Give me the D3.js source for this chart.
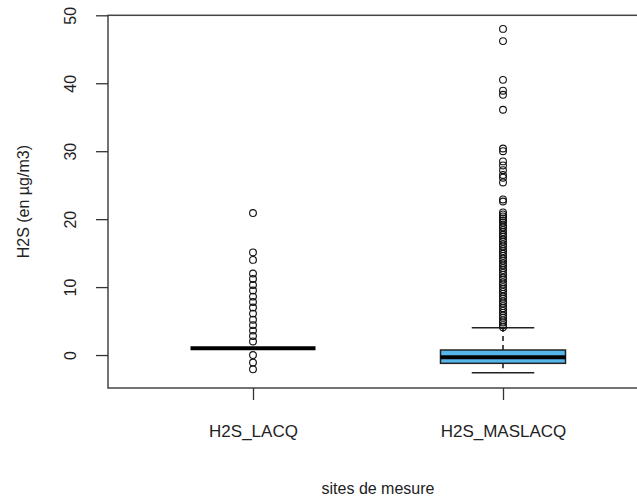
<!DOCTYPE html>
<html>
<head>
<meta charset="utf-8">
<script src="https://cdn.jsdelivr.net/npm/d3@7"></script>
<style>
  body { margin: 0; background: #fff; }
  text { font-family: "Liberation Sans", Arial, sans-serif; fill: #222; }
</style>
</head>
<body>
<div id="boxplot"></div>
<script>
const WIDTH = 637;
const HEIGHT = 499;

// plot region (right side runs past the picture edge, as in the original)
const PLOT_LEFT = 108;
const PLOT_RIGHT = 648;
const PLOT_TOP = 15.3;
const PLOT_BOTTOM = 388;

const TICK_FONT = 16;
const CAT_FONT = 17;
const TITLE_FONT = 16;
const BOX_COLOR = "#56b6ea";

// data
const categories = ["H2S_LACQ", "H2S_MASLACQ"];
const whiskerLow = [1.0, -2.6];
const q1 = [1.0, -1.22];
const median = [1.0, -0.34];
const q3 = [1.0, 0.74];
const whiskerHigh = [1.0, 4.02];
const boxFill = ["none", BOX_COLOR];

const outliersLacq = [20.9, 15.1, 14.0, 12.0, 11.2, 10.3, 9.5, 8.6, 7.8, 7.0,
  6.1, 5.2, 4.4, 3.6, 2.8, 2.0, 0.0, -1.1, -2.1];
const outliersMaslacq = [48.0, 46.2, 40.5, 38.9, 38.3, 36.1, 30.4, 30.0, 28.5,
  27.9, 27.2, 26.5, 26.1, 25.4, 22.9, 22.6, 21.0, 20.7, 20.4, 20.1, 19.8, 19.5,
  19.1, 18.8, 18.4, 18.1, 17.7, 17.4, 17.0, 16.7, 16.3, 16.0, 15.6, 15.3, 14.9,
  14.6, 14.2, 13.9, 13.5, 13.2, 12.8, 12.5, 12.1, 11.8, 11.4, 11.1, 10.7, 10.4,
  10.0, 9.7, 9.3, 9.0, 8.6, 8.3, 7.9, 7.6, 7.2, 6.9, 6.5, 6.2, 5.8, 5.5, 5.1,
  4.8, 4.4, 4.1];
const outliers = [outliersLacq, outliersMaslacq];

const yTicks = [0, 10, 20, 30, 40, 50];
const yLabel = "H2S (en µg/m3)";
const xLabel = "sites de mesure";

const svg = d3
  .select("#boxplot")
  .append("svg")
  .attr("width", WIDTH)
  .attr("height", HEIGHT);

const x = d3.scaleLinear().domain([0.42, 2.58]).range([PLOT_LEFT, PLOT_RIGHT]);
const y = d3.scaleLinear().domain([-4.85, 50]).range([PLOT_BOTTOM, PLOT_TOP]);

const BOX_HALF = 0.25;
const STAPLE_HALF = 0.125;

// boxes
categories.forEach((cat, i) => {
  const cx = i + 1;
  const g = svg.append("g").attr("class", "box");

  // whiskers (dashed)
  g.append("line")
    .attr("x1", x(cx)).attr("x2", x(cx))
    .attr("y1", y(q3[i])).attr("y2", y(whiskerHigh[i]))
    .style("stroke", "#111").style("stroke-width", 1.5)
    .style("stroke-dasharray", "5,4");
  g.append("line")
    .attr("x1", x(cx)).attr("x2", x(cx))
    .attr("y1", y(q1[i])).attr("y2", y(whiskerLow[i]))
    .style("stroke", "#111").style("stroke-width", 1.5)
    .style("stroke-dasharray", "5,4");

  // staples
  [whiskerHigh[i], whiskerLow[i]].forEach(v => {
    g.append("line")
      .attr("x1", x(cx - STAPLE_HALF)).attr("x2", x(cx + STAPLE_HALF))
      .attr("y1", y(v)).attr("y2", y(v))
      .style("stroke", "#222").style("stroke-width", 1.5);
  });

  g.append("rect")
    .attr("x", x(cx - BOX_HALF))
    .attr("y", y(q3[i]))
    .attr("width", x(cx + BOX_HALF) - x(cx - BOX_HALF))
    .attr("height", y(q1[i]) - y(q3[i]))
    .style("fill", boxFill[i])
    .style("stroke", "#222")
    .style("stroke-width", 1.5);

  g.append("line")
    .attr("x1", x(cx - BOX_HALF)).attr("x2", x(cx + BOX_HALF))
    .attr("y1", y(median[i])).attr("y2", y(median[i]))
    .style("stroke", "#000").style("stroke-width", 4);
});

// outliers
categories.forEach((cat, i) => {
  svg.append("g")
    .selectAll("circle")
    .data(outliers[i])
    .enter()
    .append("circle")
    .attr("cx", x(i + 1))
    .attr("cy", d => y(d))
    .attr("r", 3.4)
    .style("fill", "none")
    .style("stroke", "#111")
    .style("stroke-width", 1.1);
});

// frame
svg.append("rect")
  .attr("x", PLOT_LEFT)
  .attr("y", PLOT_TOP)
  .attr("width", PLOT_RIGHT - PLOT_LEFT)
  .attr("height", PLOT_BOTTOM - PLOT_TOP)
  .style("fill", "none")
  .style("stroke", "#444")
  .style("stroke-width", 1.5);

// y axis
const yAxis = svg.append("g")
  .attr("transform", `translate(${PLOT_LEFT},0)`)
  .call(d3.axisLeft(y).tickValues(yTicks).tickSize(12).tickPadding(0));
yAxis.select(".domain").remove();
yAxis.selectAll(".tick line").style("stroke", "#333").style("stroke-width", 1.3);
yAxis.selectAll(".tick text")
  .attr("transform", "rotate(-90)")
  .attr("x", 0)
  .attr("y", -38)
  .attr("dy", "0.35em")
  .style("text-anchor", "middle")
  .style("font-family", "'Liberation Sans', Arial, sans-serif")
  .style("font-size", TICK_FONT + "px")
  .style("fill", "#222");

// x axis
const xAxis = svg.append("g")
  .attr("transform", `translate(0,${PLOT_BOTTOM})`)
  .call(d3.axisBottom(x)
    .tickValues([1, 2])
    .tickFormat(d => categories[d - 1])
    .tickSize(12)
    .tickPadding(25));
xAxis.select(".domain").remove();
xAxis.selectAll(".tick line").style("stroke", "#333").style("stroke-width", 1.3);
xAxis.selectAll(".tick text")
  .style("font-family", "'Liberation Sans', Arial, sans-serif")
  .style("font-size", CAT_FONT + "px")
  .style("fill", "#222");

// axis titles
svg.append("text")
  .attr("transform", `translate(23,${(PLOT_TOP + PLOT_BOTTOM) / 2}) rotate(-90)`)
  .attr("dy", "0.35em")
  .style("text-anchor", "middle")
  .style("font-size", TITLE_FONT + "px")
  .text(yLabel);

svg.append("text")
  .attr("x", (PLOT_LEFT + PLOT_RIGHT) / 2)
  .attr("y", 488)
  .attr("dy", "0.35em")
  .style("text-anchor", "middle")
  .style("font-size", TITLE_FONT + "px")
  .text(xLabel);
</script>
</body>
</html>
